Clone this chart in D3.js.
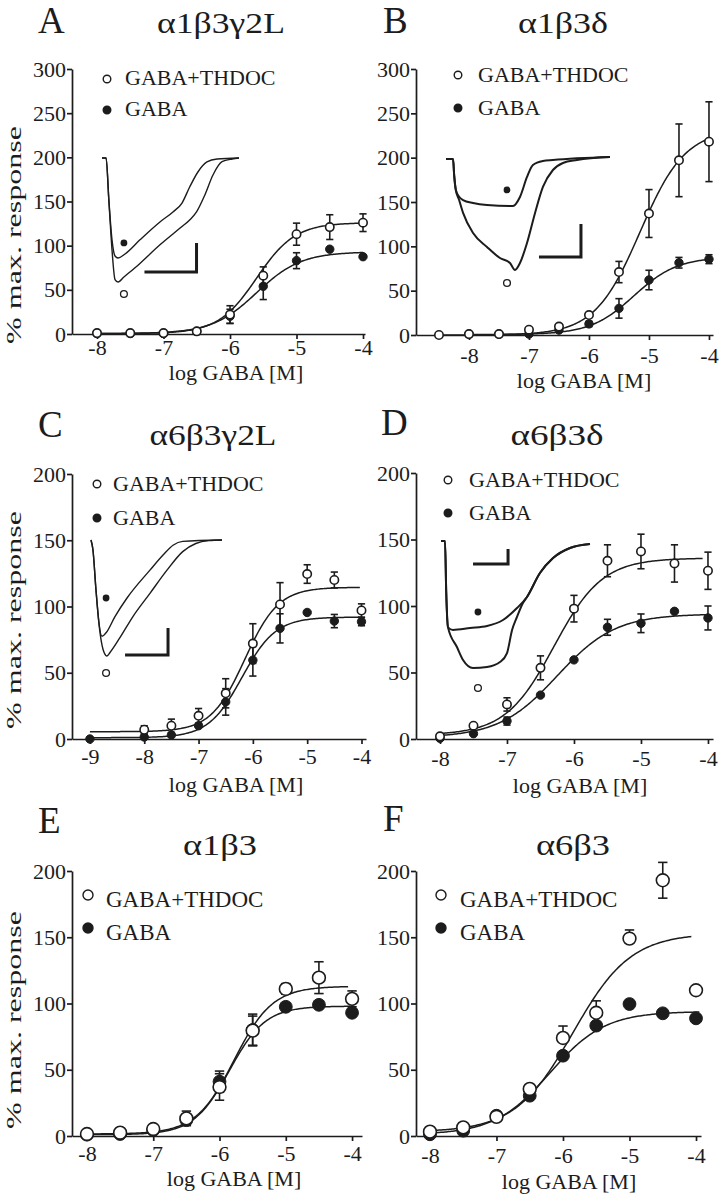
<!DOCTYPE html>
<html>
<head>
<meta charset="utf-8">
<script src="https://cdn.jsdelivr.net/npm/d3@7"></script>
<style>
body { margin: 0; background: #fff; }
text { font-family: "Liberation Serif", "Times New Roman", serif; fill: #1c1c1c; }
</style>
</head>
<body>
<svg id="fig" width="726" height="1199"></svg>
<script>

// ---- data (log GABA [M] vs % max. response) ----

var concA = [-8, -7.5, -7, -6.5, -6, -5.5, -5, -4.5, -4];
var thdocA = [1, 1, 1, 3, 22, 66, 113, 121, 126];
var thdocErrA = [0, 0, 0, 0, 10, 10, 12.5, 14, 10];
var gabaA = [0.5, 0.5, 0.5, 3, 20, 54, 83, 96, 87.5];
var gabaErrA = [0, 0, 0, 0, 8, 15, 9, 0, 0];
var fitThdocA = [0.5, 126, -5.6, 1.5];   // bottom, top, logEC50, hill
var fitGabaA = [0.5, 93, -5.6, 1.3];

var concB = [-8.5, -8, -7.5, -7, -6.5, -6, -5.5, -5, -4.5, -4];
var thdocB = [0, 1, 1, 6, 9.5, 22.5, 71, 137, 197, 218];
var thdocErrB = [0, 0, 0, 0, 0, 2, 12, 27, 41, 45];
var gabaB = [null, 1, 1, 1, 5.5, 12.5, 30, 62, 81.5, 85.5];
var gabaErrB = [0, 0, 0, 0, 0, 3, 11, 11, 6, 5];
var fitThdocB = [0, 232, -5.15, 1.15];
var fitGabaB = [0.5, 88, -5.25, 1.2];

var concC = [-9, -8, -7.5, -7, -6.5, -6, -5.5, -5, -4.5, -4];
var thdocC = [null, 7, 10, 17.5, 34.5, 72, 101.5, 124.5, 120, 97];
var thdocErrC = [0, 3, 5, 5.5, 11, 15, 16.5, 7, 6, 5];
var gabaC = [0, 1.5, 3, 10, 28, 59.5, 83.5, 95.5, 89, 88.5];
var gabaErrC = [0, 0, 0, 0, 10, 12, 11, 0, 5, 3];
var fitThdocC = [5.5, 114.5, -6.15, 1.4];
var fitGabaC = [1, 92, -6.2, 1.4];

var concD = [-8, -7.5, -7, -6.5, -6, -5.5, -5, -4.5, -4];
var thdocD = [2, 10, 26, 53.5, 98, 134, 141, 132, 126.5];
var thdocErrD = [0, 0, 5, 9, 10, 12, 13, 14, 14];
var gabaD = [0.5, 4, 13.5, 33, 59.5, 84, 87, 96, 91];
var gabaErrD = [0, 0, 3, 0, 0, 6, 7, 0, 9];
var fitThdocD = [3, 136, -6.3, 1.2];
var fitGabaD = [1, 94, -6.25, 1.0];

var concE = [-8, -7.5, -7, -6.5, -6, -5.5, -5, -4.5, -4];
var thdocE = [1.5, 2.5, 5.3, 13.3, 37, 79.5, 111, 119.5, 103.5];
var thdocErrE = [0, 0, 3, 5.5, 10, 11, 4, 12, 6];
var gabaE = [1, 1.5, 4.5, 12, 41, 80, 97.5, 99, 93];
var gabaErrE = [0, 0, 0, 0, 8, 12, 0, 0, 0];
var fitThdocE = [1.5, 113, -5.78, 1.5];
var fitGabaE = [1, 98, -5.85, 1.6];

var concF = [-8, -7.5, -7, -6.5, -6, -5.5, -5, -4.5, -4];
var thdocF = [3.3, 6.5, 14.5, 35.5, 74, 93, 149, 193, 110];
var thdocErrF = [0, 0, 0, 0, 9, 9, 6.5, 13.5, 0];
var thdocErrDownF = [0, 0, 0, 0, 0, 0, 0, 13.5, 0];
var gabaF = [1.3, 4, 15.3, 30.4, 60.6, 83.3, 99.6, 92.6, 88.8];
var gabaErrF = [0, 0, 0, 0, 0, 0, 0, 0, 0];
var fitThdocF = [3, 153, -5.85, 1.0];
var fitGabaF = [1, 94, -6.2, 1.05];

var yTicks300 = [0, 50, 100, 150, 200, 250, 300];
var yTicks200 = [0, 50, 100, 150, 200];
var xTicks8 = [-8, -7, -6, -5, -4];
var xTicks9 = [-9, -8, -7, -6, -5, -4];
var legendLabels = ["GABA+THDOC", "GABA"];

// ---- example current traces (time 0..1, fraction of peak current) ----

var traceGabaA = [[0,0],[0.03,0],[0.05,0.34],[0.073,0.66],[0.095,0.79],[0.117,0.806],[0.168,0.774],[0.277,0.66],[0.423,0.516],[0.518,0.435],[0.584,0.363],[0.64,0.234],[0.7,0.113],[0.766,0.032],[0.84,0.008],[1,0]];
var traceThdocA = [[0,0],[0.03,0],[0.05,0.34],[0.073,0.74],[0.095,0.98],[0.117,1],[0.16,0.96],[0.277,0.85],[0.423,0.7],[0.57,0.565],[0.64,0.5],[0.69,0.435],[0.75,0.3],[0.81,0.137],[0.876,0.03],[0.95,0.008],[1,0]];
var traceGabaB = [[0,0],[0.043,0],[0.05,0.15],[0.06,0.28],[0.08,0.34],[0.104,0.37],[0.165,0.396],[0.25,0.414],[0.408,0.423],[0.451,0.342],[0.494,0.162],[0.53,0.054],[0.591,0.018],[0.652,0.009],[1,-0.018]];
var traceThdocB = [[0,0],[0.043,0],[0.05,0.15],[0.06,0.28],[0.08,0.37],[0.104,0.486],[0.165,0.667],[0.25,0.793],[0.329,0.892],[0.39,0.937],[0.421,1],[0.451,0.937],[0.494,0.757],[0.543,0.486],[0.591,0.252],[0.652,0.099],[0.713,0.036],[0.799,0.009],[1,-0.018]];
var traceGabaC = [[0,0],[0.015,0.086],[0.038,0.43],[0.061,0.72],[0.084,0.83],[0.115,0.8],[0.183,0.66],[0.275,0.5],[0.45,0.26],[0.55,0.13],[0.626,0.045],[0.7,0.012],[1,0]];
var traceThdocC = [[0,0],[0.015,0.086],[0.038,0.43],[0.069,0.8],[0.1,0.97],[0.122,1],[0.145,0.97],[0.222,0.84],[0.32,0.66],[0.45,0.46],[0.58,0.26],[0.7,0.1],[0.8,0.03],[0.9,0.005],[1,0]];
var traceGabaD = [[0,0],[0.027,0],[0.035,0.4],[0.047,0.68],[0.08,0.7],[0.195,0.685],[0.309,0.669],[0.416,0.622],[0.51,0.528],[0.577,0.441],[0.664,0.252],[0.752,0.134],[0.866,0.055],[1,0.024]];
var traceThdocD = [[0,0],[0.027,0],[0.035,0.4],[0.047,0.68],[0.107,0.835],[0.148,0.937],[0.215,1],[0.309,0.992],[0.396,0.953],[0.443,0.882],[0.477,0.701],[0.51,0.598],[0.55,0.488],[0.577,0.441],[0.664,0.252],[0.752,0.134],[0.866,0.055],[1,0.024]];

// scale bar: [corner t, corner i, horizontal length, vertical length]
var scaleBarA = [0.69, 0.92, 0.38, 0.235];
var scaleBarB = [0.823, 0.883, 0.256, 0.297];
var scaleBarC = [0.588, 0.991, 0.328, 0.232];
var scaleBarD = [0.45, 0.181, 0.235, 0.118];
// marker dots next to traces: [t, i gaba, i thdoc]
var traceDotsA = [0.16, 0.685, 1.097];
var traceDotsB = [0.372, 0.279, 1.117];
var traceDotsC = [0.115, 0.5, 1.147];
var traceDotsD = [0.248, 0.559, 1.157];

// ---- layout ----

var panels = [
	{ letter: "A", title: "α1β3γ2L", titleW: 128, conc: concA, thdoc: thdocA, thdocErr: thdocErrA, gaba: gabaA, gabaErr: gabaErrA,
	  fitT: fitThdocA, fitG: fitGabaA, curveT: [-8, -4], curveG: [-8, -4],
	  xDom: [-8.376, -3.97], xRng: [72, 365], yMax: 300, yRng: [334, 69], yTicks: yTicks300, xTicks: xTicks8,
	  xPad: 0, xLab: [236, 380], yLab: [21, 235], letterPos: [38, 33], titlePos: [221, 33],
	  legend: [107, 79, 31, 125, 6], big: false,
	  inset: { box: [102, 239, 158, 282], g: traceGabaA, t: traceThdocA, bar: scaleBarA, dots: traceDotsA, w: 1.4 } },
	{ letter: "B", title: "α1β3δ", titleW: 90, conc: concB, thdoc: thdocB, thdocErr: thdocErrB, gaba: gabaB, gabaErr: gabaErrB,
	  fitT: fitThdocB, fitG: fitGabaB, curveT: [-8.5, -4], curveG: [-8, -4],
	  xDom: [-8.883, -3.933], xRng: [416, 713], yMax: 300, yRng: [335, 69], yTicks: yTicks300, xTicks: xTicks8,
	  xPad: 7, xLab: [584, 388], yLab: null, letterPos: [383, 33], titlePos: [563, 33],
	  legend: [458, 75, 33, 478, 7], big: false,
	  inset: { box: [446, 610, 159, 270], g: traceGabaB, t: traceThdocB, bar: scaleBarB, dots: traceDotsB, w: 2 } },
	{ letter: "C", title: "α6β3γ2L", titleW: 127, conc: concC, thdoc: thdocC, thdocErr: thdocErrC, gaba: gabaC, gabaErr: gabaErrC,
	  fitT: fitThdocC, fitG: fitGabaC, curveT: [-9, -4.03], curveG: [-9, -3.98],
	  xDom: [-9.33, -3.917], xRng: [72, 366], yMax: 200, yRng: [739, 474], yTicks: yTicks200, xTicks: xTicks9,
	  xPad: 4, xLab: [236, 792], yLab: [21, 620], letterPos: [38, 437], titlePos: [213, 445],
	  legend: [97, 484, 34, 113, 7], big: false,
	  inset: { box: [91, 222, 540, 656], g: traceGabaC, t: traceThdocC, bar: scaleBarC, dots: traceDotsC, w: 1.4 } },
	{ letter: "D", title: "α6β3δ", titleW: 93, conc: concD, thdoc: thdocD, thdocErr: thdocErrD, gaba: gabaD, gabaErr: gabaErrD,
	  fitT: fitThdocD, fitG: fitGabaD, curveT: [-8, -4.08], curveG: [-8, -3.97],
	  xDom: [-8.358, -3.925], xRng: [416, 713], yMax: 200, yRng: [739, 473], yTicks: yTicks200, xTicks: xTicks8,
	  xPad: 6, xLab: [580, 793], yLab: null, letterPos: [381, 435], titlePos: [557, 445],
	  legend: [448, 480, 33, 469, 7], big: false,
	  inset: { box: [441, 590, 541, 668], g: traceGabaD, t: traceThdocD, bar: scaleBarD, dots: traceDotsD, w: 2 } },
	{ letter: "E", title: "α1β3", titleW: 74, conc: concE, thdoc: thdocE, thdocErr: thdocErrE, gaba: gabaE, gabaErr: gabaErrE,
	  fitT: fitThdocE, fitG: fitGabaE, curveT: [-8, -4.06], curveG: [-8, -3.97],
	  xDom: [-8.226, -3.85], xRng: [72, 362], yMax: 200, yRng: [1136, 871], yTicks: yTicks200, xTicks: xTicks8,
	  xPad: 4, xLab: [234, 1186], yLab: [21, 1020], letterPos: [38, 833], titlePos: [220, 855],
	  legend: [88, 895, 33, 106, 12], big: true, inset: null },
	{ letter: "F", title: "α6β3", titleW: 74, conc: concF, thdoc: thdocF, thdocErr: thdocErrF, thdocErrDown: thdocErrDownF, gaba: gabaF, gabaErr: gabaErrF,
	  fitT: fitThdocF, fitG: fitGabaF, curveT: [-8, -4.07], curveG: [-8, -3.95],
	  xDom: [-8.21, -3.925], xRng: [416, 701], yMax: 200, yRng: [1136, 871], yTicks: yTicks200, xTicks: xTicks8,
	  xPad: 6, xLab: [569, 1189], yLab: null, letterPos: [383, 831], titlePos: [573, 855],
	  legend: [441, 895, 33, 460, 12], big: true, inset: null }
];

var svg = d3.select("#fig");

function hill(p, x) {
	return p[0] + (p[1] - p[0]) / (1 + Math.pow(10, (p[2] - x) * p[3]));
}

function drawPanel(p) {

	var g = svg.append("g");
	var x = d3.scaleLinear().domain(p.xDom).range(p.xRng);
	var y = d3.scaleLinear().domain([0, p.yMax]).range(p.yRng);
	var r = p.big ? 6.4 : 4.2;
	var cap = p.big ? 4.7 : 3.6;

	// axes
	g.append("g")
		.attr("transform", "translate(0," + p.yRng[0] + ")")
		.call(d3.axisBottom(x).tickValues(p.xTicks).tickSize(5).tickSizeOuter(0).tickPadding(p.xPad)
			.tickFormat(function (d) { return String(d); }));

	g.append("g")
		.attr("transform", "translate(" + p.xRng[0] + ",0)")
		.call(d3.axisLeft(y).tickValues(p.yTicks).tickSize(5).tickSizeOuter(0).tickPadding(1));

	g.selectAll(".domain, .tick line").attr("stroke", "#1c1c1c").attr("stroke-width", 1.7);
	g.selectAll(".tick text").attr("font-size", 22).attr("fill", "#1c1c1c");

	// fitted curves
	var line = d3.line()
		.x(function (d) { return x(d[0]); })
		.y(function (d) { return y(d[1]); });

	[[p.fitT, p.curveT], [p.fitG, p.curveG]].forEach(function (c) {
		var pts = [];
		for (var i = 0; i <= 200; i++) {
			var lx = c[1][0] + (c[1][1] - c[1][0]) * i / 200;
			pts.push([lx, hill(c[0], lx)]);
		}
		g.append("path")
			.attr("d", line(pts))
			.attr("fill", "none")
			.attr("stroke", "#1c1c1c")
			.attr("stroke-width", 1.5);
	});

	// error bars then points
	var series = [
		{ vals: p.gaba, err: p.gabaErr, errDown: p.gabaErr, open: false },
		{ vals: p.thdoc, err: p.thdocErr, errDown: p.thdocErrDown || p.thdocErr, open: true }
	];

	series.forEach(function (s) {

		var data = p.conc.map(function (c, i) {
			return { c: c, v: s.vals[i], up: s.err[i], dn: s.errDown[i] };
		}).filter(function (d) { return d.v != null; });

		var eb = g.append("g").attr("stroke", "#1c1c1c").attr("stroke-width", 1.6);

		data.filter(function (d) { return d.up > 0 || d.dn > 0; }).forEach(function (d) {
			var cx = x(d.c);
			eb.append("line").attr("x1", cx).attr("x2", cx).attr("y1", y(d.v + d.up)).attr("y2", y(d.v - d.dn));
			if (d.up > 0) {
				eb.append("line").attr("x1", cx - cap).attr("x2", cx + cap).attr("y1", y(d.v + d.up)).attr("y2", y(d.v + d.up));
			}
			if (d.dn > 0) {
				eb.append("line").attr("x1", cx - cap).attr("x2", cx + cap).attr("y1", y(d.v - d.dn)).attr("y2", y(d.v - d.dn));
			}
		});

		g.append("g").selectAll("circle")
			.data(data)
			.enter().append("circle")
			.attr("cx", function (d) { return x(d.c); })
			.attr("cy", function (d) { return y(d.v); })
			.attr("r", r)
			.attr("fill", s.open ? "#fff" : "#1c1c1c")
			.attr("stroke", "#1c1c1c")
			.attr("stroke-width", s.open ? 1.6 : 1);
	});

	// legend
	var lg = p.legend;
	var lr = p.big ? 5 : 3.8;
	legendLabels.forEach(function (label, i) {
		var ly = lg[1] + i * lg[2];
		g.append("circle")
			.attr("cx", lg[0]).attr("cy", ly).attr("r", lr)
			.attr("fill", i == 0 ? "#fff" : "#1c1c1c")
			.attr("stroke", "#1c1c1c").attr("stroke-width", 1.4);
		g.append("text")
			.attr("x", lg[3]).attr("y", ly + lg[4])
			.attr("font-size", p.big ? 23 : 22)
			.text(label);
	});

	// inset traces
	if (p.inset) {
		var ins = p.inset;
		var tx = d3.scaleLinear().domain([0, 1]).range([ins.box[0], ins.box[1]]);
		var ty = d3.scaleLinear().domain([0, 1]).range([ins.box[2], ins.box[3]]);
		var tline = d3.line()
			.x(function (d) { return tx(d[0]); })
			.y(function (d) { return ty(d[1]); })
			.curve(d3.curveMonotoneX);

		[ins.g, ins.t].forEach(function (tr) {
			g.append("path")
				.attr("d", tline(tr))
				.attr("fill", "none")
				.attr("stroke", "#1c1c1c")
				.attr("stroke-width", ins.w);
		});

		var b = ins.bar;
		g.append("path")
			.attr("d", "M" + tx(b[0] - b[2]) + "," + ty(b[1]) + "H" + tx(b[0]) + "V" + ty(b[1] - b[3]))
			.attr("fill", "none")
			.attr("stroke", "#1c1c1c")
			.attr("stroke-width", 3);

		g.append("circle")
			.attr("cx", tx(ins.dots[0])).attr("cy", ty(ins.dots[1])).attr("r", 3.4)
			.attr("fill", "#1c1c1c");
		g.append("circle")
			.attr("cx", tx(ins.dots[0])).attr("cy", ty(ins.dots[2])).attr("r", 3.4)
			.attr("fill", "#fff").attr("stroke", "#1c1c1c").attr("stroke-width", 1.3);
	}

	// texts
	g.append("text")
		.attr("x", p.letterPos[0]).attr("y", p.letterPos[1])
		.attr("font-size", 37)
		.text(p.letter);

	g.append("text")
		.attr("x", p.titlePos[0]).attr("y", p.titlePos[1])
		.attr("text-anchor", "middle")
		.attr("font-size", 30)
		.attr("textLength", p.titleW)
		.attr("lengthAdjust", "spacingAndGlyphs")
		.text(p.title);

	g.append("text")
		.attr("x", p.xLab[0]).attr("y", p.xLab[1])
		.attr("text-anchor", "middle")
		.attr("font-size", 22)
		.text("log GABA [M]");

	if (p.yLab) {
		g.append("text")
			.attr("transform", "translate(" + p.yLab[0] + "," + p.yLab[1] + ") rotate(-90)")
			.attr("text-anchor", "middle")
			.attr("font-size", 22)
			.attr("textLength", 218)
			.attr("lengthAdjust", "spacingAndGlyphs")
			.text("% max. response");
	}
}

panels.forEach(drawPanel);

</script>
</body>
</html>
